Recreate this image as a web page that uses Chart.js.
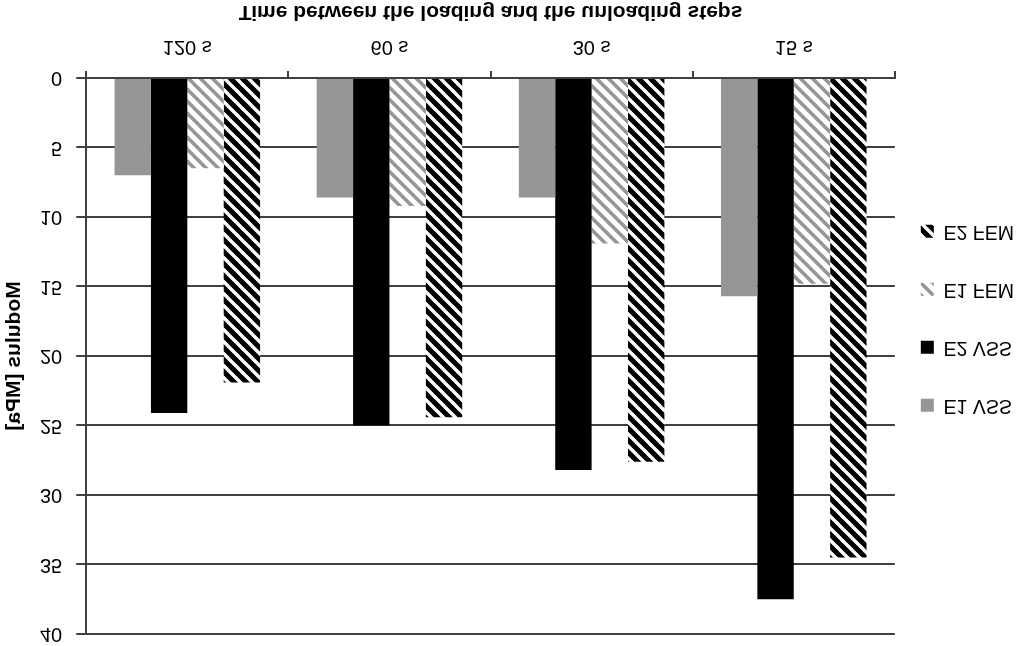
<!DOCTYPE html>
<html>
<head>
<meta charset="utf-8">
<script src="https://cdn.jsdelivr.net/npm/chart.js@4"></script>
<style>
  body { margin: 0; background: #fff; }
  /* the reference is printed upside down, so the whole canvas is mirrored vertically */
  #modulus { display: block; transform: scaleY(-1); }
</style>
</head>
<body>
<canvas id="modulus" width="1024" height="646"></canvas>
<script>
var categories = ['120 s', '60 s', '30 s', '15 s'];
var seriesNames = ['E1 VSS', 'E2 VSS', 'E1 FEM', 'E2 FEM'];
var e1Vss = [7.0, 8.6, 8.6, 15.7];
var e2Vss = [24.1, 25.0, 28.2, 37.5];
var e1Fem = [6.5, 9.2, 11.9, 14.8];
var e2Fem = [21.9, 24.4, 27.6, 34.5];
var yMin = 0;
var yMax = 40;
var yStep = 5;

function hatch(bg, fg, w) {
  var p = 12;
  var c = document.createElement('canvas');
  c.width = p;
  c.height = p;
  var g = c.getContext('2d');
  g.fillStyle = bg;
  g.fillRect(0, 0, p, p);
  g.strokeStyle = fg;
  g.lineWidth = w;
  g.beginPath();
  g.moveTo(-2, 2); g.lineTo(2, -2);
  g.moveTo(0, p); g.lineTo(p, 0);
  g.moveTo(p - 2, p + 2); g.lineTo(p + 2, p - 2);
  g.stroke();
  return g.createPattern(c, 'repeat');
}

var ctx = document.getElementById('modulus').getContext('2d');
var grayHatch = hatch('#ffffff', '#969696', 3.6);
var blackHatch = hatch('#000000', '#ffffff', 3.4);

Chart.defaults.font.family = "'Liberation Sans', Arial, sans-serif";
Chart.defaults.color = '#000';

new Chart(ctx, {
  type: 'bar',
  data: {
    labels: categories,
    datasets: [
      { label: [seriesNames[0]], data: e1Vss, backgroundColor: '#969696' },
      { label: [seriesNames[1]], data: e2Vss, backgroundColor: '#000000' },
      { label: [seriesNames[2]], data: e1Fem, backgroundColor: grayHatch },
      { label: [seriesNames[3]], data: e2Fem, backgroundColor: blackHatch }
    ]
  },
  options: {
    responsive: false,
    animation: false,
    devicePixelRatio: 1,
    layout: { padding: 0 },
    datasets: {
      bar: { categoryPercentage: 0.72, barPercentage: 1, borderWidth: 0 }
    },
    plugins: {
      tooltip: { enabled: false },
      legend: {
        position: 'right',
        // empty title only nudges the legend column down a bit
        title: { display: true, text: '', padding: 0, font: { size: 18, lineHeight: '22px' } },
        labels: {
          boxWidth: 13,
          boxHeight: 13,
          padding: 26,
          font: { size: 19.5, lineHeight: '32px' },
          color: '#000'
        }
      }
    },
    scales: {
      x: {
        grid: { drawOnChartArea: false, tickLength: 7, color: '#404040', lineWidth: 2 },
        border: { color: '#404040', width: 2 },
        ticks: { padding: 12, font: { size: 20 }, maxRotation: 0 },
        title: {
          display: true,
          text: 'Time between the loading and the unloading steps',
          font: { size: 21, weight: 'bold', lineHeight: '23px' },
          padding: { top: 0, bottom: 0 }
        }
      },
      y: {
        min: yMin,
        max: yMax,
        ticks: { stepSize: yStep, padding: 14, font: { size: 20 } },
        grid: { color: '#404040', lineWidth: 2, tickLength: 10 },
        border: { color: '#404040', width: 2 },
        title: {
          display: true,
          text: 'Modulus [MPa]',
          font: { size: 21, weight: 'bold', lineHeight: '23px' },
          padding: { top: 3, bottom: 0 }
        },
        // tick padding otherwise gets added above the top label too
        afterFit: function (scale) {
          scale.paddingTop = 12;
        }
      }
    }
  }
});
</script>
</body>
</html>
